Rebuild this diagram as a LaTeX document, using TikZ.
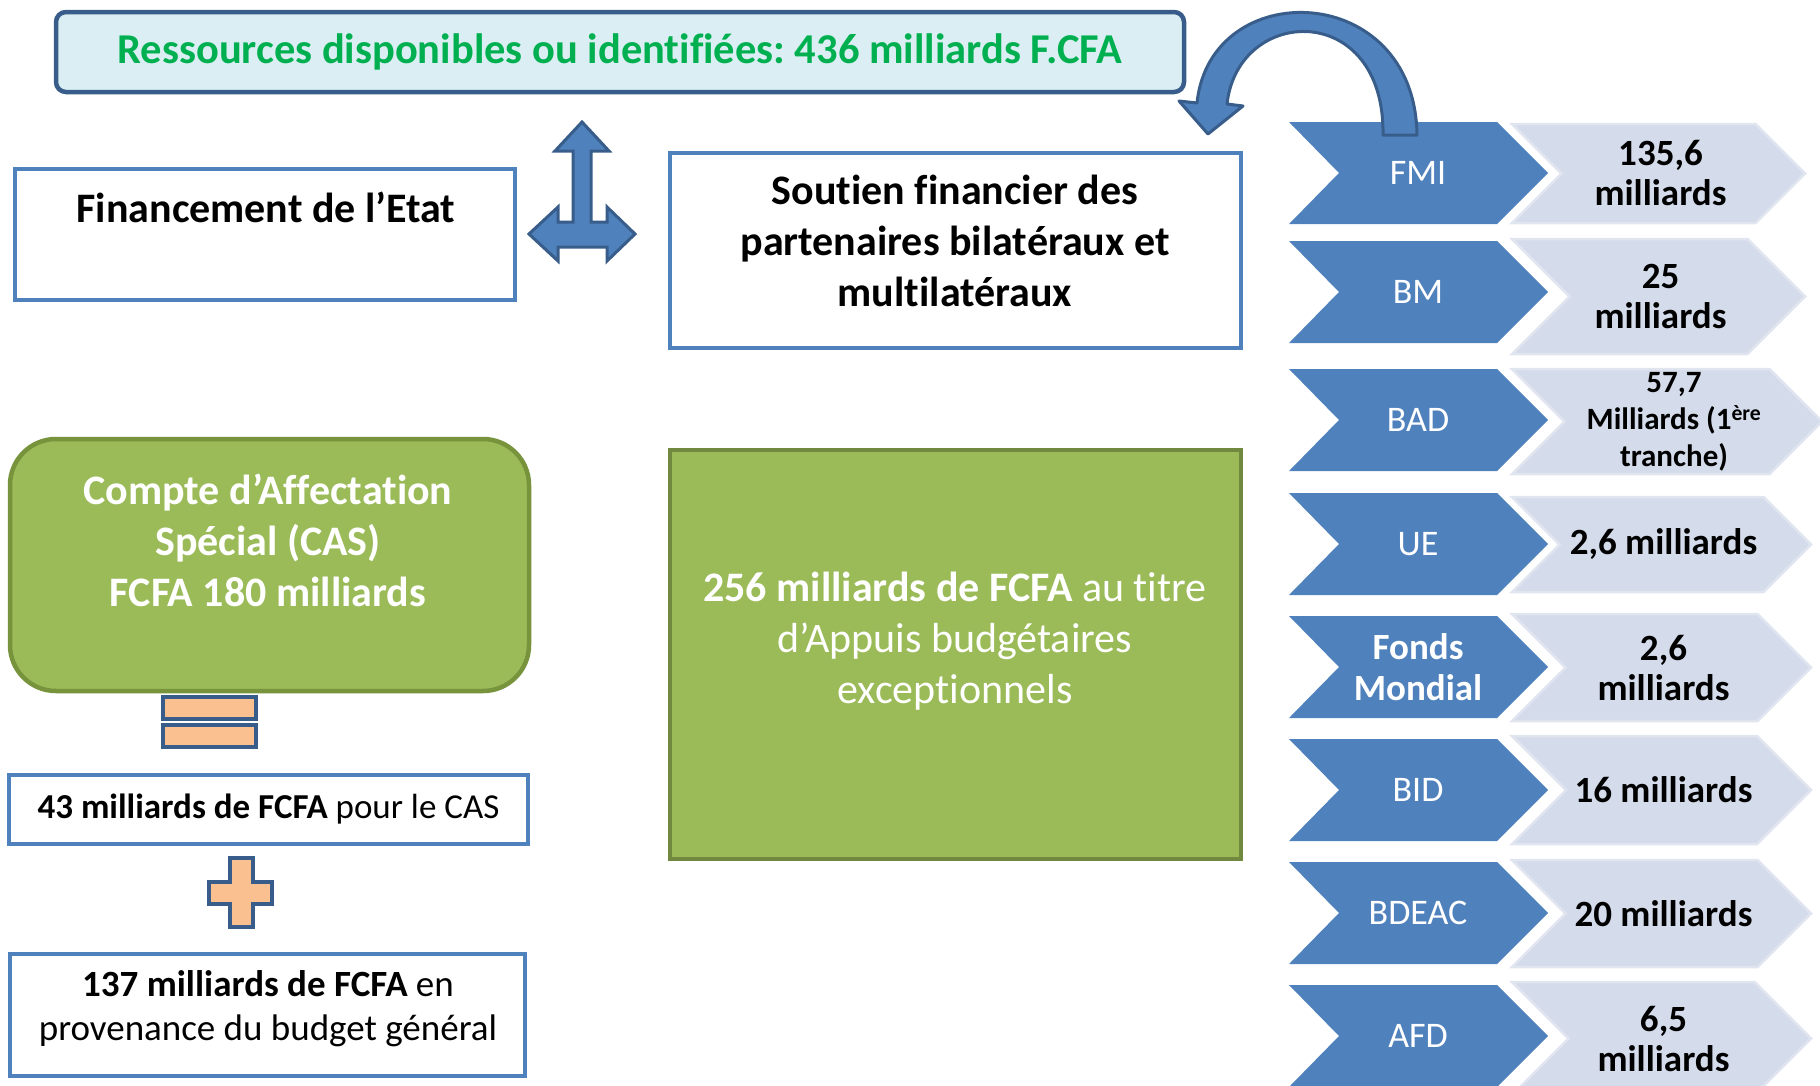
\documentclass[tikz,border=0pt]{standalone}
\usepackage{fontspec}
\setmainfont{Carlito}[Ligatures=NoCommon]
\frenchspacing
\usetikzlibrary{calc}
\definecolor{dblue}{HTML}{4F81BD}
\definecolor{nblue}{HTML}{385D8A}
\definecolor{lblue}{HTML}{DAEEF3}
\definecolor{tgreen}{HTML}{00B050}
\definecolor{ogreen}{HTML}{9BBB59}
\definecolor{bgreen}{HTML}{71893F}
\definecolor{cgreen}{HTML}{77933C}
\definecolor{peach}{HTML}{FAC090}
\definecolor{chevl}{RGB}{212,219,234}
\definecolor{chevlb}{RGB}{224,229,240}
\tikzset{
 bluebox/.style={draw=dblue, line width=4pt, fill=white, inner sep=0pt},
 topbox/.style={draw=nblue, line width=4.5pt, fill=lblue, rounded corners=10pt, inner sep=0pt},
 greenbox/.style={draw=bgreen, line width=3.5pt, fill=ogreen, inner sep=0pt},
 casbox/.style={draw=cgreen, line width=4.5pt, fill=ogreen, rounded corners=46pt, inner sep=0pt},
 opsign/.style={draw=nblue, line width=3.5pt, fill=peach},
 blockarrow/.style={draw=nblue, line width=3pt, fill=dblue, line join=round},
 darkchev/.style={fill=dblue},
 lightchev/.style={fill=chevl, draw=chevlb, line width=2.5pt},
 bigtext/.style={font=\fontsize{42}{51}\selectfont\bfseries, align=center, inner sep=0pt},
 chevlab/.style={font=\fontsize{36}{41}\selectfont, text=white, align=center, inner sep=0pt},
 chevval/.style={font=\fontsize{37}{40}\selectfont\bfseries, align=center, inner sep=0pt},
}
% #1 name, #2 dark top, #3 light top, #4 light bottom, #5 light tip x
\newcommand\chevrow[5]{%
  \path[darkchev] (1289,#2) -- (1497,#2) -- (1548,#2+51) -- (1497,#2+102) -- (1289,#2+102) -- (1339,#2+51) -- cycle;
  \path[lightchev] (1512,#3) -- ({#5-(#4-#3)/2},#3) -- (#5,{(#3+#4)/2}) -- ({#5-(#4-#3)/2},#4) -- (1512,#4) -- ({1512+(#4-#3)/2},{(#3+#4)/2}) -- cycle;
  \coordinate (#1d) at (1418,#2+51);
  \coordinate (#1v) at ({(1512+#5)/2+2},{(#3+#4)/2});
}
\begin{document}
\begin{tikzpicture}[x=1pt,y=-1pt]
\useasboundingbox (0,0) rectangle (1820,1085);

% top box
\node[topbox, minimum width=1128pt, minimum height=80pt] (top) at (620,52)
  {\fontsize{42.5}{51}\selectfont\bfseries\color{tgreen}Ressources disponibles ou identifiées: 436 milliards F.CFA};

% Financement
\node[bluebox, minimum width=500pt, minimum height=131pt] (finbox) at (265,234.5) {};
\node[bigtext] (fin) at (266,207) {Financement de l’Etat};

% Soutien
\node[bluebox, minimum width=571pt, minimum height=195pt] (soubox) at (955.5,250.5) {};
\node[bigtext] (sou) at (955,241) {Soutien financier des\\partenaires bilatéraux et\\multilatéraux};

% 256 box
\node[greenbox, minimum width=571pt, minimum height=409pt] (appbox) at (955.5,654.5) {};
\node[bigtext, text=white, font=\fontsize{42}{51}\selectfont] (app) at (955,641)
  {\textbf{256 milliards de FCFA} au titre\\d’Appuis budgétaires\\exceptionnels};

% CAS box
\node[casbox, minimum width=519pt, minimum height=252pt] (casbox) at (269.5,565) {};
\node[bigtext, text=white] (cas) at (268,540) {Compte d’Affectation\\Spécial (CAS)\\FCFA 180 milliards};

% equals
\draw[opsign] (163,697) rectangle (256,719);
\draw[opsign] (163,725) rectangle (256,747);

% 43 box
\node[bluebox, minimum width=519pt, minimum height=69pt] (b43) at (268.5,809.5)
  {\fontsize{35}{40}\selectfont\textbf{43 milliards de FCFA} pour le CAS};

% plus
\draw[opsign] (230,858) -- (253,858) -- (253,882) -- (272,882) -- (272,904) -- (253,904) -- (253,927)
  -- (230,927) -- (230,904) -- (209,904) -- (209,882) -- (230,882) -- cycle;

% 137 box
\node[bluebox, minimum width=515pt, minimum height=122pt] (b137box) at (267.5,1015) {};
\node[font=\fontsize{37}{44}\selectfont, align=center, inner sep=0pt] (b137) at (268,1009)
  {\textbf{137 milliards de FCFA} en\\provenance du budget général};

% T arrow (up, left, right)
\draw[blockarrow, line join=miter] (582,122) -- (609,151) -- (591,151) -- (591,222) -- (607,222) -- (607,207)
  -- (635,234) -- (607,261) -- (607,247) -- (558,247) -- (558,261) -- (529,234) -- (558,207)
  -- (558,222) -- (573,222) -- (573,151) -- (555,151) -- cycle;

% chevrons
\chevrow{fmi}{122}{124}{223}{1805}
\chevrow{bm}{241}{239}{354}{1805}
\chevrow{bad}{369}{369}{474}{1822}
\chevrow{ue}{493}{497}{592}{1811}
\chevrow{fm}{616}{614}{721}{1811}
\chevrow{bid}{739}{736}{844}{1811}
\chevrow{bdeac}{862}{860}{967}{1811}
\chevrow{afd}{985}{982}{1095}{1811}

\node[chevlab] (fmi) at (fmid) {FMI};
\node[chevlab] (bm) at (bmd) {BM};
\node[chevlab] (bad) at (badd) {BAD};
\node[chevlab] (ue) at (ued) {UE};
\node[chevlab, font=\fontsize{37}{41}\selectfont\bfseries] (fm) at (fmd) {Fonds\\Mondial};
\node[chevlab] (bid) at (bidd) {BID};
\node[chevlab] (bdeac) at (bdeacd) {BDEAC};
\node[chevlab] (afd) at (afdd) {AFD};

\node[chevval] (fmival) at (fmiv) {135,6\\milliards};
\node[chevval] (bmval) at (bmv) {25\\milliards};
\node[chevval, font=\fontsize{31}{37}\selectfont\bfseries] (badval) at ([xshift=5pt]badv) {57,7\\Milliards (1\textsuperscript{ère}\\tranche)};
\node[chevval] (ueval) at (uev) {2,6 milliards};
\node[chevval] (fmval) at (fmv) {2,6\\milliards};
\node[chevval] (bidval) at (bidv) {16 milliards};
\node[chevval] (bdeacval) at (bdeacv) {20 milliards};
\node[chevval] (afdval) at (afdv) {6,5\\milliards};

% curved arrow from FMI chevron to the Soutien box
\coordinate (ctail) at (1400,135);
\coordinate (ctip) at (1208,134);
\draw[blockarrow] ($(ctail)+(17,0)$) .. controls (1415,-20) and (1210,-25) .. (1197,103)
  -- (1179,101) -- (ctip) -- (1243,106) -- (1227,104)
  .. controls (1238,5) and (1385,0) .. ($(ctail)+(-17,0)$) -- cycle;

\end{tikzpicture}
\end{document}
